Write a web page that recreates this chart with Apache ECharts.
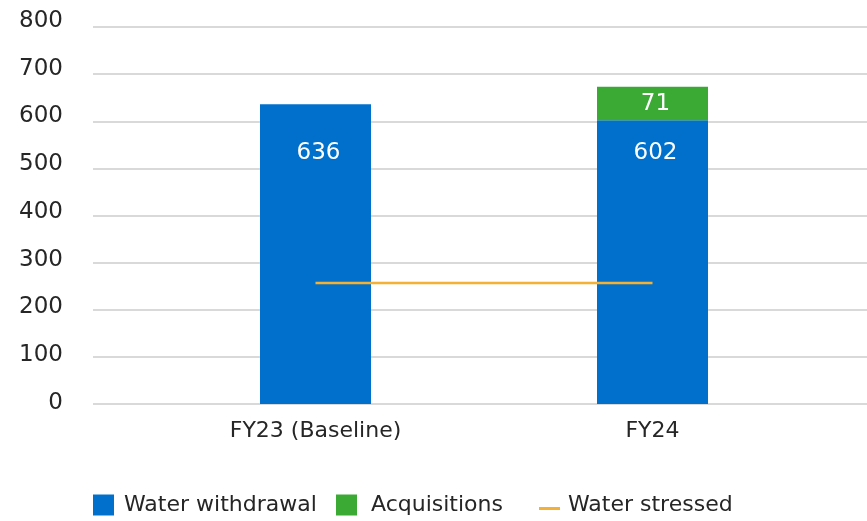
<!DOCTYPE html>
<html>
<head>
<meta charset="utf-8">
<script src="https://cdn.jsdelivr.net/npm/echarts@6/dist/echarts.min.js"></script>
<style>
  html, body { margin: 0; padding: 0; background: #ffffff; }
  #chart { width: 867px; height: 521px; }
</style>
</head>
<body>
<div id="chart"></div>
<script>
// Water withdrawal by year (megalitres), with acquisitions stacked on top
const categories = ['FY23 (Baseline)', 'FY24'];
const waterWithdrawal = [636, 602];
const acquisitions = [null, 71];
const waterStressed = [257, 257];

// Value axis ticks
const yMin = 0;
const yMax = 800;
const yStep = 100;

const BLUE = '#0070CC';
const GREEN = '#3AAA35';
const ORANGE = '#F4B133';
const GRID_GREY = '#D9D9D9';
const TEXT = '#262626';
const FONT = '"DejaVu Sans", sans-serif';

// short dash legend key, kept in a 21x21 box by zero-area corner points
const DASH_ICON = 'path://M0,0L0,0M0,12.5L21,12.5L21,15.5L0,15.5ZM21,21L21,21';

// height (in axis units) at which the withdrawal figures are written
const WITHDRAWAL_LABEL_LEVEL = 532;

const chart = echarts.init(document.getElementById('chart'), null, { renderer: 'canvas' });

const option = {
  animation: false,
  backgroundColor: '#ffffff',
  textStyle: { fontFamily: FONT },
  grid: [
    // 0: tick labels
    { left: 93, right: 0, top: 21, bottom: 118 },
    // 1: horizontal gridlines
    { left: 93, right: 0, top: 27, bottom: 117 },
    // 2: bars and line
    { left: 147, right: 46, top: 27, bottom: 117 }
  ],
  xAxis: [
    { gridIndex: 0, type: 'value', show: false },
    { gridIndex: 1, type: 'value', show: false },
    {
      gridIndex: 2,
      type: 'category',
      data: categories,
      axisLine: { show: false },
      axisTick: { show: false },
      axisLabel: { color: TEXT, fontSize: 22, fontFamily: FONT, margin: 16 }
    }
  ],
  yAxis: [
    {
      gridIndex: 0, type: 'value', min: yMin, max: yMax, interval: yStep,
      axisLine: { show: false }, axisTick: { show: false }, splitLine: { show: false },
      axisLabel: { color: TEXT, fontSize: 23, fontFamily: FONT, margin: 30 }
    },
    {
      gridIndex: 1, type: 'value', min: yMin, max: yMax, interval: yStep,
      axisLine: { show: false }, axisTick: { show: false }, axisLabel: { show: false },
      splitLine: { show: true, lineStyle: { color: GRID_GREY, width: 2 } }
    },
    {
      gridIndex: 2, type: 'value', min: yMin, max: yMax, interval: yStep, show: false,
      splitLine: { show: false }
    }
  ],
  legend: [
    {
      data: ['Water withdrawal'], left: 93, top: 494, padding: 0,
      itemWidth: 21, itemHeight: 21,
      icon: 'rect', itemStyle: { borderWidth: 0 },
      textStyle: { color: TEXT, fontSize: 22, fontFamily: FONT, padding: [0, 0, 0, 5] }
    },
    {
      data: ['Acquisitions'], left: 336, top: 494, padding: 0,
      itemWidth: 21, itemHeight: 21,
      icon: 'rect', itemStyle: { borderWidth: 0 },
      textStyle: { color: TEXT, fontSize: 22, fontFamily: FONT, padding: [0, 0, 0, 9] }
    },
    {
      data: ['Water stressed'], left: 539, top: 494, padding: 0,
      itemWidth: 21, itemHeight: 21,
      icon: DASH_ICON, itemStyle: { color: ORANGE, borderWidth: 0 },
      textStyle: { color: TEXT, fontSize: 22, fontFamily: FONT, padding: [0, 0, 0, 3] }
    }
  ],
  series: [
    {
      name: 'Water withdrawal',
      type: 'bar',
      xAxisIndex: 2, yAxisIndex: 2,
      stack: 'total',
      barWidth: 111,
      itemStyle: { color: BLUE },
      label: { show: true, position: 'inside', color: '#ffffff', fontSize: 23, fontFamily: FONT },
      data: waterWithdrawal
    },
    {
      name: 'Acquisitions',
      type: 'bar',
      xAxisIndex: 2, yAxisIndex: 2,
      stack: 'total',
      barWidth: 111,
      itemStyle: { color: GREEN },
      label: { show: true, position: 'inside', color: '#ffffff', fontSize: 23, fontFamily: FONT, offset: [3, 0] },
      data: acquisitions
    },
    {
      name: 'Water stressed',
      type: 'line',
      xAxisIndex: 2, yAxisIndex: 2,
      z: 5,
      symbol: 'none',
      itemStyle: { color: ORANGE },
      lineStyle: { color: ORANGE, width: 2.5 },
      data: waterStressed
    }
  ]
};

chart.setOption(option);

// Put the withdrawal figures at a common height across both bars
const toY = v => chart.convertToPixel({ yAxisIndex: 2 }, v);
const labelY = toY(WITHDRAWAL_LABEL_LEVEL);
const baseY = toY(0);
chart.setOption({
  series: [{
    data: waterWithdrawal.map(v => ({
      value: v,
      label: { offset: [3, labelY - (toY(v) + baseY) / 2] }
    }))
  }]
});
</script>
</body>
</html>
